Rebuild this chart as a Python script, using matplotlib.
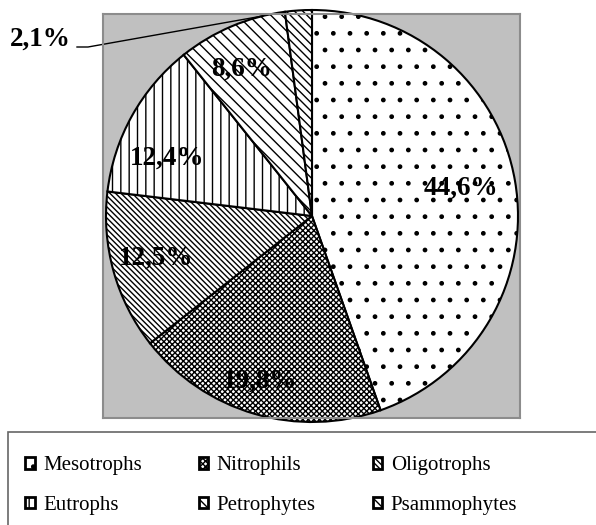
import numpy as np
import matplotlib.pyplot as plt
from matplotlib.patches import Rectangle, Patch

categories = ["Mesotrophs", "Nitrophils", "Oligotrophs", "Eutrophs", "Petrophytes", "Psammophytes"]
shares = [44.6, 19.8, 12.5, 12.4, 8.6, 2.1]
labels = ["44,6%", "19,8%", "12,5%", "12,4%", "8,6%", "2,1%"]
hatches = [".", "xxxxxx", "\\\\\\\\\\\\", "||", "\\\\\\", "\\\\\\\\"]

plt.rcParams["font.family"] = ["Liberation Serif", "DejaVu Serif"]
plt.rcParams["hatch.linewidth"] = 1.0

W, H = 596, 525
fig = plt.figure(figsize=(W / 100, H / 100), dpi=100)

# gray plot area, in pixels of the picture
x0, x1, y0, y1 = 103, 520, 14, 418
rad_px = 206
cx, cy = 312, 216
ax = fig.add_axes([x0 / W, 1 - y1 / H, (x1 - x0) / W, (y1 - y0) / H])

wedges, _ = ax.pie(shares, startangle=90, counterclock=False, radius=1.0,
                   colors=["white"] * len(shares),
                   wedgeprops=dict(edgecolor="black", linewidth=1.5))
for w, h in zip(wedges, hatches):
    w.set_hatch(h)
    w.set_clip_on(False)

ax.set_frame_on(True)
ax.set_facecolor("#c0c0c0")
for s in ax.spines.values():
    s.set_color("#8c8c8c")
    s.set_linewidth(1.5)
ax.set_xticks([])
ax.set_yticks([])
ax.set_aspect("auto")
ax.set_xlim(-(cx - x0) / rad_px, (x1 - cx) / rad_px)
ax.set_ylim(-(y1 - cy) / rad_px, (cy - y0) / rad_px)

# label spots (pixels)
label_px = [(461, 188), (260, 381), (156, 258), (167, 158), (242, 69)]


def to_data(px, py):
    return (px - cx) / rad_px, (cy - py) / rad_px


for lab, (px, py) in zip(labels[:5], label_px):
    ax.text(*to_data(px, py), lab, ha="center", va="center",
            fontsize=19.5, fontweight="bold")

# small slice label with leader line
lx, ly = to_data(71, 39)
ax.text(lx, ly, labels[-1], ha="right", va="center", fontsize=19.5,
        fontweight="bold", clip_on=False)
tip = np.deg2rad(103.8)
ax_, ay_ = to_data(77, 47)
bx_, by_ = to_data(88, 47)
ax.plot([ax_, bx_, np.cos(tip)], [ay_, by_, np.sin(tip)], color="black",
        lw=1.0, clip_on=False, solid_joinstyle="miter")

# legend box
fig.patches.append(Rectangle((8 / W, -0.01), 1.0, 1.01 - 432 / H, transform=fig.transFigure,
                             facecolor="white", edgecolor="#666666", linewidth=1.2))
handles = [Patch(facecolor="white", edgecolor="black", hatch=h, linewidth=2)
           for h in hatches]
order = [0, 3, 1, 4, 2, 5]
fig.legend([handles[i] for i in order], [categories[i] for i in order],
           ncol=3, loc="upper left", bbox_to_anchor=(17 / W, 1 - 448 / H),
           frameon=False, fontsize=15, handlelength=0.45, handleheight=0.45,
           handletextpad=0.4, columnspacing=2.75, labelspacing=1.0,
           borderaxespad=0)

fig.savefig("out.png", dpi=100)
